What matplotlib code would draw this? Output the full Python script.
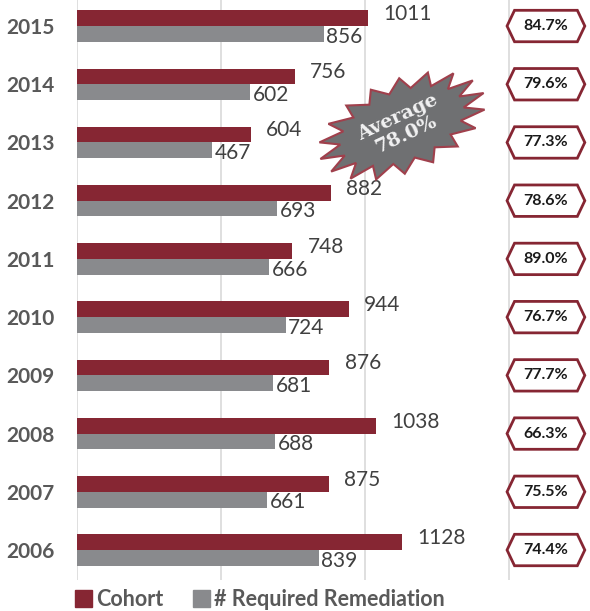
import numpy as np
import matplotlib.pyplot as plt
from matplotlib.patches import Polygon

plt.rcParams['font.family'] = ['Lato', 'DejaVu Sans']

years = ['2006', '2007', '2008', '2009', '2010', '2011', '2012', '2013', '2014', '2015']
cohort = [1128, 875, 1038, 876, 944, 748, 882, 604, 756, 1011]
remediation = [839, 661, 688, 681, 724, 666, 693, 467, 602, 856]
pct_labels = ['74.4%', '75.5%', '66.3%', '77.7%', '76.7%', '89.0%', '78.6%', '77.3%', '79.6%', '84.7%']
average_label = 'Average\n78.0%'

red = '#862633'
gray = '#898a8d'
txt = '#595959'

fig = plt.figure(figsize=(5.9, 6.11), dpi=100)
ax = fig.add_axes([77 / 590, 1 - 580 / 611, 1 - 77 / 590, 580 / 611])

y = np.arange(len(years))
h = 0.27
ax.barh(y + h / 2, cohort, height=h, color=red, zorder=2)
ax.barh(y - h / 2, remediation, height=h, color=gray, zorder=2)

for yi, c, r in zip(y, cohort, remediation):
    ax.annotate(str(c), (c, yi + h / 2), xytext=(11, 3), textcoords='offset points',
                va='center', ha='left', fontsize=15, color='#404040')
    ax.annotate(str(r), (r, yi - h / 2), xytext=(2, -2), textcoords='offset points',
                va='center', ha='left', fontsize=15, color='#404040')

ax.set_xlim(0, 1781)
ax.set_ylim(-0.515, 9.447)
ax.set_xticks([0, 500, 1000, 1500])
ax.set_xticklabels([])
ax.grid(axis='x', color='#d9d9d9', lw=1.2, zorder=0)
ax.tick_params(length=0)
ax.set_yticks(y)
ax.set_yticklabels(years, fontsize=15, fontweight='bold', color=txt)
ax.tick_params(axis='y', pad=16)
for s in ax.spines.values():
    s.set_visible(False)

# percentage badges
bx, bw, tip, bh = 1628, 135, 26, 0.27
for yi, p in zip(y, pct_labels):
    pts = [(bx - bw, yi), (bx - bw + tip, yi + bh), (bx + bw - tip, yi + bh),
           (bx + bw, yi), (bx + bw - tip, yi - bh), (bx - bw + tip, yi - bh)]
    ax.add_patch(Polygon(pts, closed=True, facecolor='white', edgecolor=red, lw=2, zorder=3))
    ax.text(bx, yi, p, ha='center', va='center', fontsize=11.5, fontweight='bold',
            color='#1a1a1a', zorder=4)

# average starburst
cx, cy = 402, 126
n = 18
ang = np.linspace(0, 2 * np.pi, 2 * n, endpoint=False)
rad = np.where(np.arange(2 * n) % 2 == 0, 1.0, 0.74)
px = 88 * rad * np.cos(ang)
py = 46 * rad * np.sin(ang)
rot = np.deg2rad(22)
sx = cx + px * np.cos(rot) - py * np.sin(rot)
sy = cy - (px * np.sin(rot) + py * np.cos(rot))
star = Polygon(np.column_stack([sx / 590, 1 - sy / 611]), closed=True,
               transform=fig.transFigure, facecolor='#6f7072', edgecolor='#a0404c', lw=1.5, zorder=5)
fig.patches.append(star)
fig.text(cx / 590, 1 - cy / 611, average_label, ha='center', va='center', rotation=25,
         fontsize=14, fontweight='bold', color='#f2f2f2', family='DejaVu Serif',
         linespacing=1.05, zorder=6)

# legend
fig.patches.append(plt.Rectangle((75 / 590, 1 - 607 / 611), 17 / 590, 17 / 611,
                                 transform=fig.transFigure, color=red))
fig.text(96 / 590, 1 - 599 / 611, 'Cohort', fontsize=15.5, fontweight='bold', color=txt, va='center')
fig.patches.append(plt.Rectangle((193 / 590, 1 - 607 / 611), 17 / 590, 17 / 611,
                                 transform=fig.transFigure, color=gray))
fig.text(214 / 590, 1 - 599 / 611, '# Required Remediation', fontsize=15.5, fontweight='bold',
         color=txt, va='center')

fig.savefig('out.png', dpi=100)
